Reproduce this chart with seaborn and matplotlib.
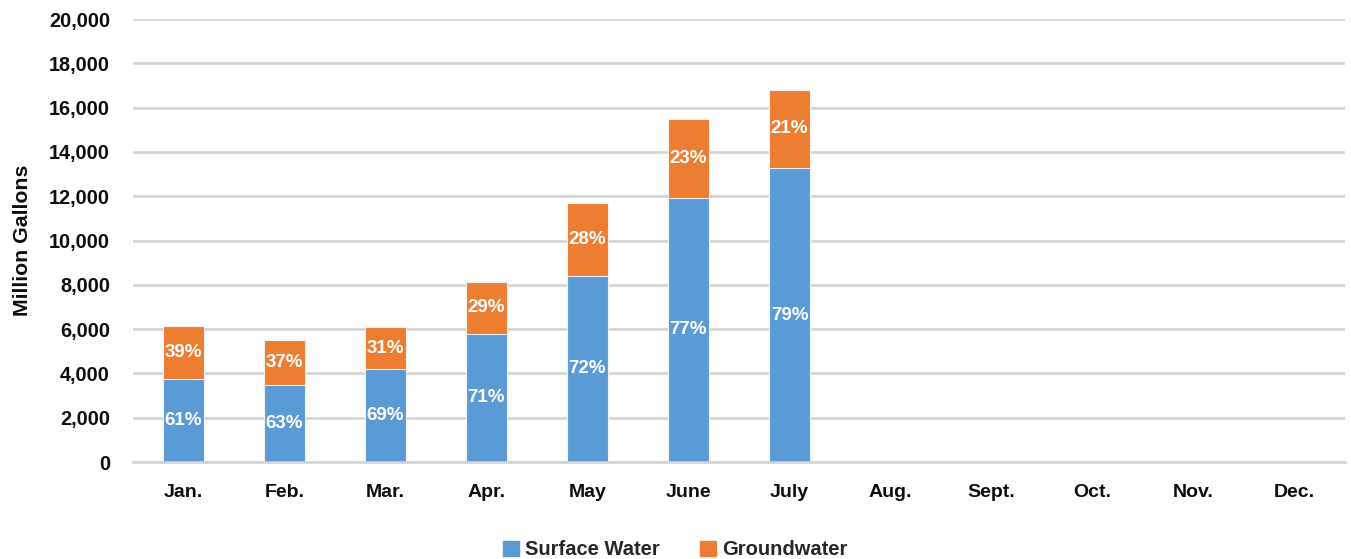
import pandas as pd
import numpy as np
import matplotlib.pyplot as plt
import seaborn as sns

# ─────────────────────────────────────────────
# DATA
# ─────────────────────────────────────────────
months = ['Jan.', 'Feb.', 'Mar.', 'Apr.', 'May', 'June', 'July',
          'Aug.', 'Sept.', 'Oct.', 'Nov.', 'Dec.']
surface_water = [3750, 3480, 4180, 5780, 8410, 11920, 13270,
                 np.nan, np.nan, np.nan, np.nan, np.nan]
groundwater = [2400, 2030, 1910, 2350, 3290, 3570, 3530,
               np.nan, np.nan, np.nan, np.nan, np.nan]
surface_pct = ['61%', '63%', '69%', '71%', '72%', '77%', '79%']
ground_pct = ['39%', '37%', '31%', '29%', '28%', '23%', '21%']

BLUE = '#5B9BD5'
ORANGE = '#ED7D31'
GRID = '#D4D4D4'

sns.set_theme(style='white')
plt.rcParams['font.family'] = ['Liberation Sans', 'DejaVu Sans']
plt.rcParams['font.weight'] = 'bold'

df = pd.DataFrame({'Month': months,
                   'Surface': surface_water,
                   'Ground': groundwater})
df['Total'] = df['Surface'] + df['Ground']

fig = plt.figure(figsize=(13.51, 5.59), dpi=100)
ax = fig.add_axes([0.0984, 0.1735, 0.8972, 0.7925])

sns.barplot(data=df, x='Month', y='Total', order=months, color=ORANGE,
            saturation=1, width=0.4, ax=ax, linewidth=0.8, edgecolor='#F2F2F2')
sns.barplot(data=df, x='Month', y='Surface', order=months, color=BLUE,
            saturation=1, width=0.4, ax=ax, linewidth=0.8, edgecolor='#F2F2F2')

# percentage labels
for i, (s, g) in enumerate(zip(df['Surface'][:7], df['Ground'][:7])):
    ax.text(i, s / 2, surface_pct[i], ha='center', va='center',
            color='white', fontsize=13.5, fontweight='bold')
    ax.text(i, s + g / 2, ground_pct[i], ha='center', va='center',
            color='white', fontsize=13.5, fontweight='bold')

ax.set_ylim(0, 20000)
ax.set_xlim(-0.5, 11.5)
ax.set_yticks(np.arange(0, 20001, 2000))
ax.set_yticklabels([f'{v:,}' for v in range(0, 20001, 2000)])
ax.yaxis.grid(True, color=GRID, linewidth=1.9)
ax.set_axisbelow(True)
for side in ['top', 'right', 'left']:
    ax.spines[side].set_visible(False)
ax.spines['bottom'].set_color(GRID)
ax.spines['bottom'].set_linewidth(1.9)
ax.tick_params(axis='y', length=0, pad=16.5, labelsize=14.3)
ax.tick_params(axis='x', length=0, pad=16, labelsize=14)
for lbl in ax.get_xticklabels() + ax.get_yticklabels():
    lbl.set_fontweight('bold')
    lbl.set_color('#0D0D0D')

ax.set_xlabel('')
ax.set_ylabel('Million Gallons', fontsize=15.3, fontweight='bold', color='#0D0D0D', labelpad=12)

handles = [plt.Rectangle((0, 0), 1, 1, color=BLUE),
           plt.Rectangle((0, 0), 1, 1, color=ORANGE)]
fig.legend(handles, ['Surface Water', 'Groundwater'], loc='lower center',
           bbox_to_anchor=(0.5, -0.033), ncol=2, frameon=False,
           prop={'size': 14.5, 'weight': 'bold'},
           handlelength=0.8, handleheight=0.8, handletextpad=0.3, columnspacing=2.0)

plt.savefig('out.png', dpi=100)
